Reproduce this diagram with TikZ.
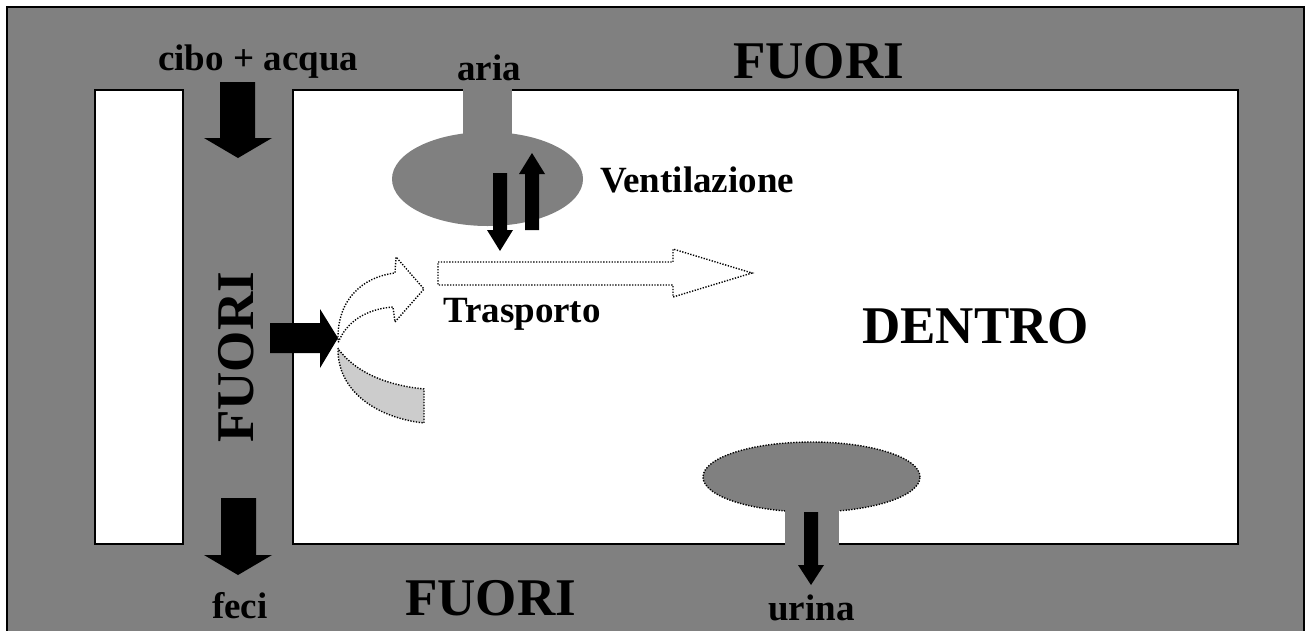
\documentclass[tikz,border=0pt]{standalone}
\usepackage{fontspec}
\setmainfont{Liberation Serif}
\usetikzlibrary{shapes.geometric}
\definecolor{fuori}{RGB}{128,128,128}
\definecolor{lightg}{RGB}{204,204,204}
\begin{document}
\begin{tikzpicture}[x=1pt,y=-1pt,
  blockarrow/.style={fill=black},
  dotline/.style={draw=black, line width=1.4pt, dash pattern=on 1.3pt off 1.5pt},
  box/.style={draw=black, line width=2pt, fill=white, inner sep=0pt, outer sep=0pt},
  small/.style={font=\bfseries\fontsize{37}{41}\selectfont, inner sep=0pt},
  big/.style={font=\bfseries\fontsize{53}{58}\selectfont, inner sep=0pt}]
\useasboundingbox (0,0) rectangle (1309,630);
\clip (0,0) rectangle (1309,630);
% outside
\draw[fill=fuori, line width=2pt] (7,7) rectangle (1304,660);
% inside regions
\node[box, minimum width=88pt, minimum height=454pt] (left) at (139,317) {};
\node[box, minimum width=945pt, minimum height=454pt] (inside) at (765.5,317) {};
% lung
\fill[fuori] (463,86) rectangle (512,150);
\node[ellipse, fill=fuori, minimum width=191pt, minimum height=94pt, inner sep=0pt] (lung) at (487.5,179) {};
% kidney
\node[ellipse, fill=fuori, dotline, minimum width=217pt, minimum height=70pt, inner sep=0pt] (kidney) at (811.5,477) {};
\fill[fuori] (785,500) rectangle (839,548);
% block arrows
\fill[blockarrow] (220,82) -- (255,82) -- (255,138) -- (272,138) -- (238,158) -- (204,138) -- (220,138) -- cycle;
\fill[blockarrow] (221,498) -- (256,498) -- (256,555) -- (272,555) -- (238,575) -- (204,555) -- (221,555) -- cycle;
\fill[blockarrow] (270,323) -- (320,323) -- (320,309) -- (338,338) -- (320,368) -- (320,353) -- (270,353) -- cycle;
\fill[blockarrow] (493,173) -- (507,173) -- (507,230) -- (513,230) -- (500,251) -- (487,230) -- (493,230) -- cycle;
\fill[blockarrow] (525,230) -- (539,230) -- (539,174) -- (545,174) -- (532,153) -- (519,174) -- (525,174) -- cycle;
\fill[blockarrow] (804,512) -- (818,512) -- (818,565) -- (824,565) -- (811,585) -- (798,565) -- (804,565) -- cycle;
% transport arrow
\path[dotline, fill=white] (438,262) -- (673,262) -- (673,249) -- (752,273) -- (673,297) -- (673,285) -- (438,285) -- cycle;
% curved arrows
\path[dotline] (338,340) .. controls (337,300) and (362,277) .. (395,273) -- (396,257) -- (424,289) -- (395,322) -- (393,307) .. controls (366,309) and (346,322) .. (338,343);
\path[dotline, fill=lightg] (338,348) .. controls (337,392) and (378,418) .. (424,423) -- (424,389) .. controls (385,385) and (356,372) .. (339,350) -- cycle;
% texts
\node[small, anchor=base west] (cibo) at (158,70) {cibo + acqua};
\node[small, anchor=base west] (aria) at (457,80) {aria};
\node[big, anchor=base west] (fuoritop) at (733,78) {FUORI};
\node[small, anchor=base west] (vent) at (600,192) {Ventilazione};
\node[small, anchor=base west] (trasp) at (443,322) {Trasporto};
\node[big, anchor=base west] (dentro) at (862,343) {DENTRO};
\node[big, anchor=base west] (fuoribot) at (405,615) {FUORI};
\node[small, anchor=base west] (feci) at (212,618) {feci};
\node[small, anchor=base west] (urina) at (768,620) {urina};
\node[big, anchor=base west, rotate=90] (fuorileft) at (253,443) {FUORI};
\end{tikzpicture}
\end{document}
